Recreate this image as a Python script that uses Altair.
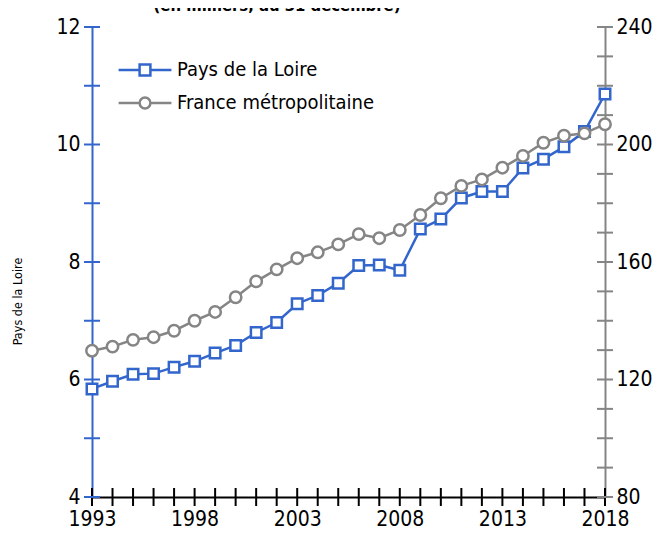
import altair as alt
import pandas as pd

# ---- data ----
annees = list(range(1993, 2019))
pays_de_la_loire = [5.84, 5.97, 6.09, 6.10, 6.21, 6.31, 6.45, 6.58, 6.80, 6.97,
                    7.29, 7.43, 7.64, 7.94, 7.95, 7.86, 8.56, 8.73, 9.09, 9.20,
                    9.20, 9.60, 9.75, 9.96, 10.22, 10.86]
france_metro = [129.8, 131.2, 133.5, 134.4, 136.6, 140.0, 143.0, 148.0, 153.4, 157.5,
                161.3, 163.3, 166.0, 169.5, 168.1, 170.9, 176.0, 181.7, 185.9, 188.1,
                192.1, 196.1, 200.6, 203.0, 203.8, 206.9]
series = ["Pays de la Loire", "France métropolitaine"]
left_ticks = list(range(4, 13))
left_labels = [4, 6, 8, 10, 12]
right_ticks = list(range(80, 241, 10))
right_labels = [80, 120, 160, 200, 240]
x_labels = [1993, 1998, 2003, 2008, 2013, 2018]
titre = "(en milliers, au 31 décembre)"

BLUE = "#3366CC"
GREY = "#858585"
BG = "#B8D4F1"
FONT = "DejaVu Sans Condensed"
W, H = 513, 470

df_pdl = pd.DataFrame({"annee": annees, "valeur": pays_de_la_loire})
df_fr = pd.DataFrame({"annee": annees, "valeur": france_metro})
df_lt = pd.DataFrame({"valeur": left_ticks})
df_rt = pd.DataFrame({"valeur": right_ticks})
df_xt = pd.DataFrame({"annee": annees})
df_leg = pd.DataFrame({"serie": pd.Series([], dtype=str)})
df_title = pd.DataFrame({"t": [titre]})

x_enc = alt.X("annee:Q",
              scale=alt.Scale(domain=[1993, 2018], nice=False, zero=False),
              axis=alt.Axis(values=x_labels, format="d", title=None, grid=False,
                            ticks=False, domainColor="black", domainWidth=2,
                            labelFont=FONT, labelFontSize=21, labelColor="black",
                            labelPadding=11, labelFlush=False))

y_left = alt.Y("valeur:Q",
               scale=alt.Scale(domain=[4, 12], nice=False, zero=False),
               axis=alt.Axis(orient="left", values=left_labels, format="d",
                             title="Pays de la Loire", titleFont=FONT, titleFontSize=12.5,
                             titleFontWeight="normal", titleColor="black", titlePadding=31,
                             titleY=274,
                             grid=True, gridColor="white", gridWidth=2,
                             ticks=False, domainColor=BLUE, domainWidth=2,
                             labelFont=FONT, labelFontSize=21, labelColor="black",
                             labelPadding=12, labelFlush=False))

y_right = alt.Y("valeur:Q",
                scale=alt.Scale(domain=[80, 240], nice=False, zero=False),
                axis=alt.Axis(orient="right", values=right_labels, format="d",
                              title=None, grid=False, ticks=False,
                              domainColor=GREY, domainWidth=2,
                              labelFont=FONT, labelFontSize=21, labelColor="black",
                              labelPadding=11, labelFlush=False))

# left group
line_pdl = alt.Chart(df_pdl).mark_line(color=BLUE, strokeWidth=2.5).encode(x=x_enc, y=y_left)
pts_pdl = alt.Chart(df_pdl).mark_point(shape="square", filled=True, fill="white",
                                       stroke=BLUE, strokeWidth=2.5, size=110,
                                       opacity=1).encode(x=x_enc, y=y_left)
ticks_left = alt.Chart(df_lt).mark_tick(color=BLUE, thickness=2, size=16,
                                        opacity=1).encode(y=y_left, x=alt.value(0))
ticks_bottom = alt.Chart(df_xt).mark_tick(color="black", thickness=2, size=18,
                                          opacity=1).encode(x=x_enc, y=alt.value(H))
left = alt.layer(ticks_bottom, ticks_left, line_pdl, pts_pdl)

# right group
line_fr = alt.Chart(df_fr).mark_line(color=GREY, strokeWidth=2.5).encode(x=x_enc, y=y_right)
pts_fr = alt.Chart(df_fr).mark_point(shape="circle", filled=True, fill="white",
                                     stroke=GREY, strokeWidth=2.5, size=130,
                                     opacity=1).encode(x=x_enc, y=y_right)
ticks_right = alt.Chart(df_rt).mark_tick(color=GREY, thickness=2, size=16,
                                         opacity=1).encode(y=y_right, x=alt.value(W))
right = alt.layer(ticks_right, line_fr, pts_fr)

# legend (symbols: line + marker)
sq = "M-4.4,0H-0.9M0.9,0H4.4M-0.9,-0.9H0.9V0.9H-0.9Z"
ci = "M-4.4,0H-0.9M-0.9,0A0.9,0.9 0 1,0 0.9,0A0.9,0.9 0 1,0 -0.9,0ZM0.9,0H4.4"
leg_props = dict(orient="none", legendX=43, legendY=33, title=None, padding=0,
                 labelFont=FONT, labelFontSize=20, labelColor="black",
                 labelOffset=22, rowPadding=11, symbolSize=144, labelLimit=400,
                 symbolStrokeWidth=2.5, symbolFillColor="white")
legend_layer = alt.Chart(df_leg).mark_point(filled=True, fill="white", strokeWidth=2.5,
                                            opacity=1).encode(
    stroke=alt.Stroke("serie:N", scale=alt.Scale(domain=series, range=[BLUE, GREY]),
                      legend=alt.Legend(**leg_props)),
    shape=alt.Shape("serie:N", scale=alt.Scale(domain=series, range=[sq, ci]),
                    legend=alt.Legend(**leg_props)),
)

title_layer = alt.Chart(df_title).mark_text(font=FONT, fontSize=16.5, fontWeight="bold",
                                            color="black", baseline="alphabetic",
                                            align="center").encode(
    text="t:N", x=alt.value(185), y=alt.value(-16))

chart = alt.layer(left, right, legend_layer, title_layer).resolve_scale(
    y="independent"
).properties(
    width=W, height=H,
    autosize=alt.AutoSizeParams(type="none"),
    padding={"left": 84, "top": 19, "right": 50, "bottom": 33},
).configure_view(fill=BG, stroke=None)

chart.save("out.html", embed_options={"renderer": "svg", "actions": False})
